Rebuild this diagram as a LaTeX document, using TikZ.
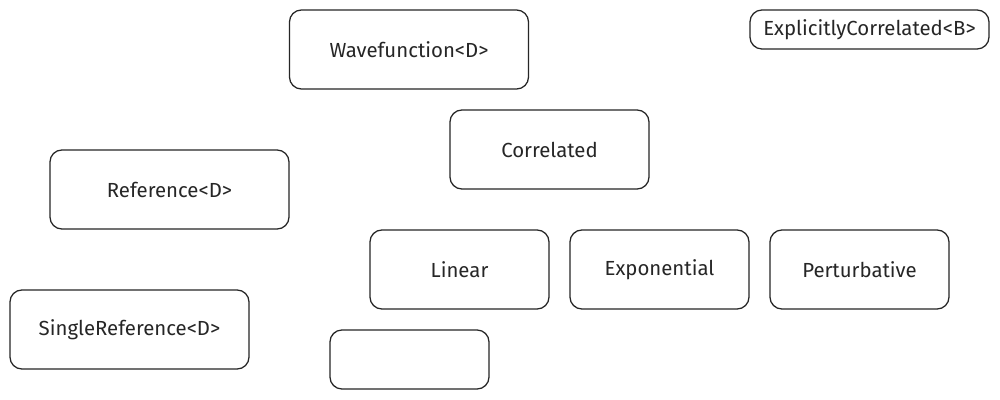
\documentclass[tikz,border=0pt]{standalone}
\usepackage{fontspec}
\setmainfont{Fira Sans}
\begin{document}
\begin{tikzpicture}[x=0.025cm,y=-0.025cm,
  box/.style={draw=black!85, line width=0.9pt, rounded corners=0.3cm, fill=white,
    inner sep=0pt, font=\fontsize{14.5}{16}\selectfont, text=black!85},
  wide/.style={minimum width=5.975cm, minimum height=1.975cm},
  mid/.style={minimum width=4.475cm, minimum height=1.975cm}]
\useasboundingbox[fill=white] (0,0) rectangle (1000,400);
\node[box, wide] (wf) at (409,49.5) {Wavefunction<D>};
\node[box, minimum width=5.975cm, minimum height=0.975cm] (ec) at (869.5,29.5) {ExplicitlyCorrelated<B>};
\node[box, minimum width=4.975cm, minimum height=1.975cm] (corr) at (549.5,149.5) {Correlated};
\node[box, wide] (ref) at (169.5,189.5) {Reference<D>};
\node[box, mid] (lin) at (459.5,269.5) {Linear};
\node[box, mid] (exp) at (659.5,269.5) {Exponential};
\node[box, mid] (pert) at (859.5,269.5) {Perturbative};
\node[box, wide] (sref) at (129.5,329.5) {SingleReference<D>};
\node[box, minimum width=3.975cm, minimum height=1.475cm] (empty) at (409.5,359.5) {};
\end{tikzpicture}
\end{document}
